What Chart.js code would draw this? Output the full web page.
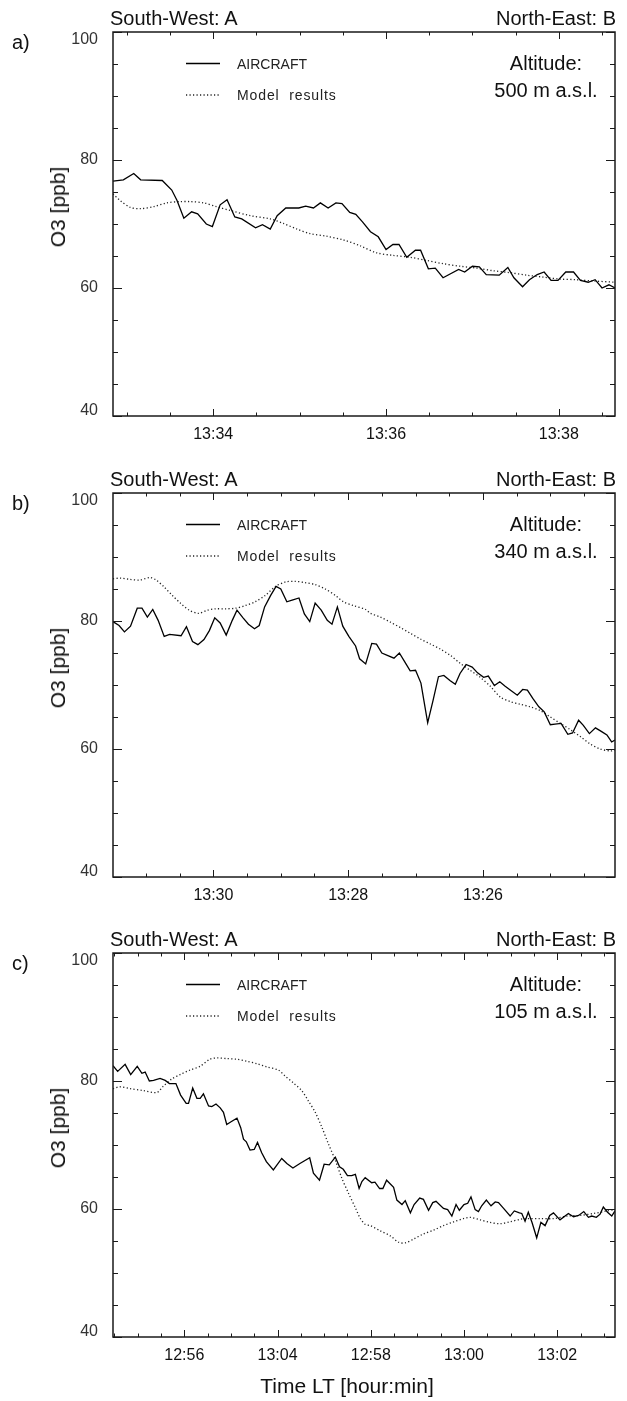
<!DOCTYPE html>
<html>
<head>
<meta charset="utf-8">
<title>O3 along the flight legs: aircraft vs model</title>
<script src="https://cdn.jsdelivr.net/npm/chart.js@4.4.1/dist/chart.umd.min.js"></script>
<style>
  html, body { margin: 0; padding: 0; background: #fff; }
  body { position: relative; width: 627px; height: 1401px; overflow: hidden;
         font-family: "Liberation Sans", Arial, Helvetica, sans-serif; color: #111; }
  canvas { position: absolute; left: 0; }
  .t { position: absolute; white-space: nowrap; font-size: 20px; line-height: 20px; }
  .alt { width: 200px; text-align: center; line-height: 27px; }
  .ylab { font-size: 21px; transform: translate(-50%, -50%) rotate(-90deg); }
</style>
</head>
<body>
<div id="root"></div>
<script>
Chart.defaults.font.family = '"Liberation Sans", Arial, Helvetica, sans-serif';
Chart.defaults.color = '#222';

const panelLetters = ['a)', 'b)', 'c)'];
const altitudeLabels = ['500 m a.s.l.', '340 m a.s.l.', '105 m a.s.l.'];
const seriesNames = ['AIRCRAFT', 'Model  results'];
const yTickValues = [40, 60, 80, 100];

// a) x = minutes after 13:00
const aRange = [32.84, 38.65];
const aTickValues = [34, 36, 38];
const aTickLabels = ['13:34', '13:36', '13:38'];
const aTime = [32.84, 32.96, 33.08, 33.16, 33.41, 33.52, 33.58, 33.66, 33.75, 33.82, 33.92, 33.99, 34.08, 34.16, 34.25, 34.33,
  34.49, 34.57, 34.66, 34.74, 34.84, 34.99, 35.07, 35.16, 35.24, 35.33, 35.42, 35.49, 35.58, 35.65, 35.73, 35.82,
  35.91, 36.00, 36.08, 36.15, 36.24, 36.34, 36.40, 36.49, 36.57, 36.66, 36.84, 36.91, 37.00, 37.08, 37.16, 37.31,
  37.41, 37.48, 37.58, 37.66, 37.75, 37.83, 37.91, 37.99, 38.08, 38.17, 38.25, 38.34, 38.42, 38.50, 38.58, 38.65];
const aAircraft = [76.7, 76.9, 77.9, 76.9, 76.8, 75.3, 73.7, 70.9, 71.9, 71.6, 70.0, 69.6, 73.0, 73.8, 71.1, 70.8,
  69.4, 69.9, 69.2, 71.3, 72.5, 72.5, 72.8, 72.5, 73.3, 72.5, 73.3, 73.2, 71.8, 71.5, 70.3, 68.8,
  68.0, 66.0, 66.8, 66.8, 64.8, 65.9, 65.9, 63.0, 63.1, 61.6, 62.9, 62.5, 63.4, 63.3, 62.1, 62.0,
  63.2, 61.6, 60.2, 61.3, 62.1, 62.5, 61.2, 61.2, 62.5, 62.5, 61.2, 60.9, 61.3, 60.0, 60.5, 60.0];
const aModelTime = [32.84, 32.92, 33.04, 33.16, 33.31, 33.46, 33.62, 33.73, 33.89, 34.04, 34.20, 34.43, 34.66, 34.81, 34.97, 35.12,
  35.31, 35.51, 35.70, 35.89, 36.08, 36.28, 36.47, 36.66, 36.86, 37.05, 37.24, 37.43, 37.63, 37.82, 38.01, 38.20, 38.40, 38.65];
const aModel = [74.7, 73.7, 72.6, 72.4, 72.7, 73.3, 73.5, 73.5, 73.3, 72.7, 72.1, 71.3, 70.8, 70.1, 69.2, 68.5,
  68.1, 67.5, 66.6, 65.5, 65.1, 64.8, 64.3, 63.8, 63.4, 63.1, 62.7, 62.4, 62.0, 61.7, 61.4, 61.3, 61.1, 60.9];

// b) x = minutes after 13:00, axis runs backwards in time
const bRange = [24.04, 31.49];
const bTickValues = [30, 28, 26];
const bTickLabels = ['13:30', '13:28', '13:26'];
const bTime = [31.49, 31.40, 31.32, 31.23, 31.13, 31.06, 30.98, 30.90, 30.82, 30.73, 30.65, 30.48, 30.40, 30.31, 30.23,
  30.14, 30.06, 29.98, 29.90, 29.81, 29.72, 29.65, 29.56, 29.48, 29.39, 29.32, 29.24, 29.15, 29.07, 29.00,
  28.91, 28.82, 28.73, 28.65, 28.57, 28.49, 28.40, 28.31, 28.24, 28.16, 28.08, 27.99, 27.89, 27.83, 27.74,
  27.65, 27.58, 27.50, 27.41, 27.32, 27.24, 27.16, 27.08, 27.00, 26.92, 26.82, 26.74, 26.66, 26.58, 26.49,
  26.41, 26.34, 26.25, 26.16, 26.08, 25.99, 25.92, 25.83, 25.75, 25.67, 25.58, 25.49, 25.41, 25.34, 25.26,
  25.17, 25.09, 25.00, 24.93, 24.84, 24.74, 24.67, 24.58, 24.51, 24.42, 24.33, 24.25, 24.16, 24.09, 24.04];
const bAircraft = [79.9, 79.3, 78.3, 79.2, 82.0, 82.0, 80.6, 81.8, 80.1, 77.6, 77.9, 77.7, 79.1, 76.8, 76.3,
  77.1, 78.5, 80.5, 79.7, 77.8, 80.1, 81.7, 80.5, 79.5, 78.8, 79.3, 82.2, 84.0, 85.4, 85.0,
  83.0, 83.3, 83.6, 81.1, 79.9, 82.8, 81.7, 80.1, 79.5, 82.2, 79.2, 77.6, 76.1, 74.1, 73.3,
  76.5, 76.4, 75.0, 74.6, 74.2, 75.0, 73.6, 72.2, 72.3, 70.3, 64.1, 67.6, 71.3, 71.5, 70.7,
  70.1, 71.8, 73.2, 72.8, 71.9, 71.2, 71.4, 69.9, 70.5, 69.8, 69.1, 68.4, 69.3, 69.2, 67.9,
  66.6, 65.8, 63.8, 63.9, 64.0, 62.3, 62.5, 64.5, 63.7, 62.4, 63.3, 62.8, 62.2, 61.1, 61.4];
const bModelTime = [31.49, 31.38, 31.24, 31.09, 30.94, 30.85, 30.73, 30.61, 30.49, 30.36, 30.22, 30.09, 29.97, 29.82,
  29.67, 29.53, 29.38, 29.23, 29.08, 28.93, 28.79, 28.64, 28.49, 28.34, 28.19, 28.07, 27.92, 27.74,
  27.67, 27.52, 27.37, 27.23, 27.08, 26.93, 26.78, 26.63, 26.48, 26.34, 26.19, 26.04, 25.89,
  25.74, 25.59, 25.45, 25.30, 25.15, 25.00, 24.85, 24.70, 24.55, 24.41, 24.26, 24.11, 24.04];
const bModel = [86.6, 86.7, 86.5, 86.4, 86.8, 86.4, 85.3, 84.0, 82.8, 81.7, 81.2, 81.7, 81.9, 81.9,
  82.0, 82.4, 83.0, 84.0, 85.4, 86.1, 86.2, 86.0, 85.7, 85.0, 84.0, 83.0, 82.4, 81.8,
  81.2, 80.6, 79.8, 79.0, 78.1, 77.2, 76.4, 75.6, 74.6, 73.4, 72.3, 71.2, 69.8,
  68.1, 67.4, 67.0, 66.6, 66.0, 65.0, 64.0, 63.0, 61.9, 60.8, 60.0, 59.7, 59.8];

// c) x = position along the leg, in the units of the printed tick spacing
const cRange = [54.47, 65.24];
const cTickValues = [56, 58, 60, 62, 64];
const cTickLabels = ['12:56', '13:04', '12:58', '13:00', '13:02'];
const cPos = [54.47, 54.57, 54.73, 54.85, 54.99, 55.09, 55.16, 55.25, 55.34, 55.48, 55.59, 55.68, 55.82, 55.92,
  56.04, 56.09, 56.18, 56.27, 56.34, 56.41, 56.52, 56.59, 56.68, 56.77, 56.84, 56.91, 57.02, 57.13,
  57.21, 57.27, 57.33, 57.41, 57.50, 57.57, 57.66, 57.76, 57.91, 58.09, 58.20, 58.33, 58.48, 58.69,
  58.77, 58.90, 59.00, 59.11, 59.24, 59.33, 59.41, 59.50, 59.59, 59.67, 59.75, 59.81, 59.88,
  60.02, 60.09, 60.19, 60.26, 60.34, 60.49, 60.56, 60.67, 60.74, 60.85, 60.93, 61.05, 61.13, 61.24,
  61.33, 61.40, 61.56, 61.65, 61.74, 61.83, 61.90, 62.00, 62.08, 62.15, 62.24, 62.31, 62.38, 62.48,
  62.58, 62.67, 62.74, 62.85, 62.99, 63.08, 63.19, 63.24, 63.31, 63.38, 63.46, 63.56, 63.65, 63.74,
  63.84, 63.92, 64.06, 64.24, 64.35, 64.46, 64.57, 64.67, 64.74, 64.84, 64.92, 64.99, 65.08, 65.17, 65.24];
const cAircraft = [82.4, 81.5, 82.6, 81.0, 82.3, 81.2, 81.4, 80.0, 80.1, 80.4, 80.1, 79.6, 79.6, 77.8,
  76.5, 76.5, 78.9, 77.3, 77.3, 78.0, 76.1, 76.0, 76.4, 75.8, 75.1, 73.2, 73.7, 74.2,
  72.7, 70.9, 70.5, 69.2, 69.3, 70.4, 68.8, 67.4, 66.1, 67.9, 67.1, 66.4, 67.1, 68.0,
  65.6, 64.5, 67.0, 66.9, 68.1, 66.6, 66.2, 65.2, 65.2, 65.4, 63.2, 64.3, 64.9,
  64.1, 64.2, 63.2, 63.2, 64.5, 63.4, 61.4, 60.7, 61.3, 59.4, 60.7, 61.7, 61.5, 59.8,
  61.0, 61.2, 60.1, 59.9, 58.9, 60.7, 59.8, 60.7, 60.9, 61.9, 59.9, 59.6, 60.5, 61.4,
  60.5, 61.1, 61.0, 60.1, 58.9, 59.7, 59.4, 59.3, 58.1, 59.5, 57.9, 55.5, 57.9, 57.4,
  59.0, 59.4, 58.3, 59.3, 58.8, 59.0, 59.6, 58.7, 58.9, 58.7, 59.2, 60.3, 59.5, 58.9, 59.7];
const cModelPos = [54.47, 54.62, 54.84, 55.12, 55.41, 55.55, 55.73, 55.91, 56.12, 56.34, 56.55, 56.70, 56.91, 57.13,
  57.34, 57.56, 57.77, 58.02, 58.16, 58.34, 58.52, 58.66, 58.81, 58.95, 59.09, 59.24, 59.38, 59.52,
  59.67, 59.77, 59.88, 59.99, 60.20, 60.42, 60.60, 60.74, 60.92, 61.13, 61.35, 61.56, 61.78, 61.99,
  62.13, 62.35, 62.56, 62.78, 62.99, 63.21, 63.35, 63.64, 63.92, 64.21, 64.49, 64.78, 65.07, 65.24];
const cModel = [78.8, 79.1, 78.8, 78.5, 78.2, 79.2, 80.3, 81.0, 81.7, 82.3, 83.4, 83.6, 83.5, 83.4,
  83.1, 82.7, 82.2, 81.7, 80.8, 79.7, 78.5, 76.9, 75.1, 72.8, 70.2, 67.6, 64.8, 62.5,
  60.2, 58.6, 57.6, 57.4, 56.6, 55.8, 54.8, 54.7, 55.3, 56.1, 56.7, 57.4, 58.0, 58.5,
  58.7, 58.3, 57.9, 57.7, 58.0, 58.4, 58.5, 58.5, 58.5, 58.9, 59.0, 59.3, 59.7, 59.9];

const panels = [
  { range: aRange, reverse: false, tickValues: aTickValues, tickLabels: aTickLabels, air: [aTime, aAircraft], model: [aModelTime, aModel] },
  { range: bRange, reverse: true, tickValues: bTickValues, tickLabels: bTickLabels, air: [bTime, bAircraft], model: [bModelTime, bModel] },
  { range: cRange, reverse: false, tickValues: cTickValues, tickLabels: cTickLabels, air: [cPos, cAircraft], model: [cModelPos, cModel] },
];

// chart-area top of each panel on the page
const panelTops = [32, 493, 953];

function pairs(xs, ys) {
  return xs.map((x, i) => ({ x, y: ys[i] }));
}

function stepTicks(min, max, step) {
  const out = [];
  for (let v = Math.ceil(min / step - 1e-9) * step; v <= max + 1e-9; v += step) {
    out.push(Math.round(v * 100) / 100);
  }
  return out;
}

// box with inward ticks on all four sides
const frame = {
  id: 'frame',
  afterDraw(chart) {
    const { ctx, chartArea: a, scales: { x, y } } = chart;
    ctx.save();
    ctx.strokeStyle = '#1a1a1a';
    ctx.lineWidth = 1;
    ctx.beginPath();
    x.ticks.forEach(t => {
      const px = Math.round(x.getPixelForValue(t.value)) + 0.5;
      const len = t.big ? 7 : 3.5;
      ctx.moveTo(px, a.bottom); ctx.lineTo(px, a.bottom - len);
      ctx.moveTo(px, a.top); ctx.lineTo(px, a.top + len);
    });
    y.ticks.forEach(t => {
      const py = Math.round(y.getPixelForValue(t.value)) + 0.5;
      const len = t.big ? 9 : 5;
      ctx.moveTo(a.left, py); ctx.lineTo(a.left + len, py);
      ctx.moveTo(a.right, py); ctx.lineTo(a.right - len, py);
    });
    ctx.stroke();
    ctx.lineWidth = 1.5;
    ctx.strokeRect(a.left, a.top, a.right - a.left, a.bottom - a.top);
    ctx.restore();
  }
};

// legend drawn inside the plot, from the datasets' own styles
const innerLegend = {
  id: 'innerLegend',
  afterDraw(chart) {
    const { ctx, chartArea: a } = chart;
    chart.data.datasets.forEach((ds, i) => {
      const y = a.top + 31.5 + i * 31.5;
      ctx.save();
      ctx.strokeStyle = ds.borderColor;
      ctx.lineWidth = ds.borderWidth;
      ctx.setLineDash(ds.borderDash || []);
      ctx.beginPath();
      ctx.moveTo(a.left + 73, y);
      ctx.lineTo(a.left + 107, y);
      ctx.stroke();
      ctx.setLineDash([]);
      ctx.fillStyle = '#222';
      ctx.font = '14px "Liberation Sans", Arial, sans-serif';
      ctx.letterSpacing = i === 1 ? '0.9px' : '0px';
      ctx.textBaseline = 'middle';
      ctx.fillText(ds.label, a.left + 124, y + 1.5);
      ctx.restore();
    });
  }
};

const root = document.getElementById('root');
const yAllTicks = stepTicks(40, 100, 5);

// the end labels sit inside the axis range in the original: push "100" down and "40" up
function yLabel(v) {
  if (!yTickValues.includes(v)) return '';
  if (v === 100) return ['', '100'];
  if (v === 40) return ['40', ''];
  return String(v);
}

panels.forEach((p, k) => {
  const T = panelTops[k];
  root.insertAdjacentHTML('beforeend', `
    <canvas id="panel-${k}" width="627" height="461" style="top:${T - 32}px"></canvas>
    <div class="t" style="left:12px;top:${T}px">${panelLetters[k]}</div>
    <div class="t" style="left:110px;top:${T - 24}px">South-West: A</div>
    <div class="t" style="right:11px;top:${T - 24}px">North-East: B</div>
    <div class="t alt" style="left:446px;top:${T + 18}px">Altitude:<br>${altitudeLabels[k]}</div>
    <div class="t ylab" style="left:58px;top:${T + 175}px">O3 [ppb]</div>
  `);

  const xAllTicks = stepTicks(p.range[0], p.range[1], 0.5);

  new Chart(document.getElementById('panel-' + k), {
    type: 'line',
    data: {
      datasets: [
        { label: seriesNames[0], data: pairs(p.air[0], p.air[1]), borderColor: '#000', borderWidth: 1.3,
          pointRadius: 0, tension: 0 },
        { label: seriesNames[1], data: pairs(p.model[0], p.model[1]), borderColor: '#222', borderWidth: 1.3,
          borderDash: [1.2, 2.3], pointRadius: 0, tension: 0.3 },
      ],
    },
    options: {
      responsive: false,
      animation: false,
      devicePixelRatio: 1,
      events: [],
      layout: { padding: { top: 32, right: 12, bottom: 0, left: 0 } },
      plugins: { legend: { display: false }, tooltip: { enabled: false } },
      scales: {
        x: {
          type: 'linear', min: p.range[0], max: p.range[1], reverse: p.reverse, bounds: 'data',
          grid: { display: false }, border: { display: false },
          afterBuildTicks: s => { s.ticks = xAllTicks.map(v => ({ value: v, big: p.tickValues.includes(v) })); },
          afterFit: s => { s.height = 45; },
          ticks: {
            autoSkip: false, maxRotation: 0, padding: 1, color: '#111', font: { size: 16 },
            callback: v => { const i = p.tickValues.indexOf(v); return i < 0 ? '' : p.tickLabels[i]; },
          },
        },
        y: {
          type: 'linear', min: 40, max: 100, bounds: 'data',
          grid: { display: false }, border: { display: false },
          afterBuildTicks: s => { s.ticks = yAllTicks.map(v => ({ value: v, big: yTickValues.includes(v) })); },
          afterFit: s => { s.width = 113; },
          ticks: {
            autoSkip: false, padding: 7, color: '#333',
            font: c => ({ size: 16, lineHeight: c.tick && c.tick.value === 100 ? 1 : (c.tick && c.tick.value === 40 ? 0.625 : 1.2) }),
            callback: yLabel,
          },
        },
      },
    },
    plugins: [frame, innerLegend],
  });
});

root.insertAdjacentHTML('beforeend',
  '<div class="t" style="left:347px;top:1376px;font-size:21px;transform:translateX(-50%)">Time LT [hour:min]</div>');
</script>
</body>
</html>
